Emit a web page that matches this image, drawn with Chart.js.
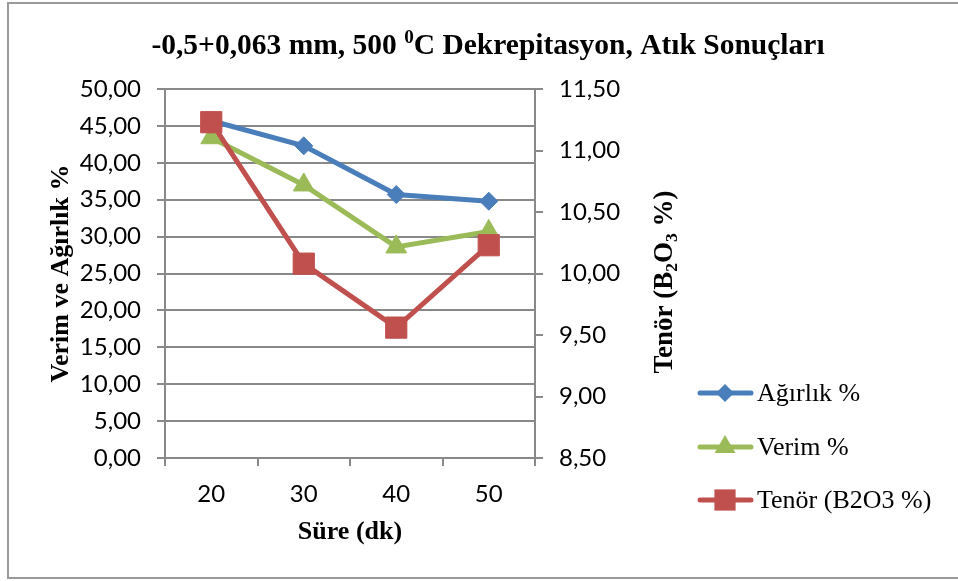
<!DOCTYPE html>
<html>
<head>
<meta charset="utf-8">
<script src="https://cdn.jsdelivr.net/npm/chart.js@4/dist/chart.umd.min.js"></script>
<style>
  body { margin: 0; background: #fff; }
</style>
</head>
<body>
<canvas id="atikChart" width="958" height="581"></canvas>
<script>
const categories = ['20', '30', '40', '50'];
const agirlik = [45.7, 42.3, 35.7, 34.8];
const verim = [43.4, 37.0, 28.6, 30.7];
const tenor = [11.23, 10.08, 9.56, 10.23];

const gridColor = '#898989';
const serif = '"Liberation Serif", "Times New Roman", serif';
const sans = 'Lato, "Open Sans", sans-serif';

const fmt = v => Number(v).toFixed(2).replace('.', ',');

// draws text pieces, some raised or lowered, centered on (x, y) baseline
function drawRich(ctx, parts, x, y, size, rotate) {
  ctx.save();
  ctx.translate(x, y);
  if (rotate) ctx.rotate(-Math.PI / 2);
  let total = 0;
  parts.forEach(p => {
    ctx.font = 'bold ' + (p.small ? size * 0.65 : size) + 'px ' + serif;
    p.w = ctx.measureText(p.t).width;
    total += p.w;
  });
  let cx = -total / 2;
  ctx.fillStyle = '#000';
  ctx.textBaseline = 'alphabetic';
  ctx.textAlign = 'left';
  parts.forEach(p => {
    ctx.font = 'bold ' + (p.small ? size * 0.65 : size) + 'px ' + serif;
    ctx.fillText(p.t, cx, y0(p));
    cx += p.w;
  });
  function y0(p) {
    if (p.sup) return -size * 0.38;
    if (p.sub) return size * 0.18;
    return 0;
  }
  ctx.restore();
}

function marker(ctx, style, x, y, r) {
  ctx.beginPath();
  if (style === 'rectRot') {
    ctx.moveTo(x, y - r); ctx.lineTo(x + r, y); ctx.lineTo(x, y + r); ctx.lineTo(x - r, y);
  } else if (style === 'triangle') {
    ctx.moveTo(x, y - r); ctx.lineTo(x + r * 0.87, y + r * 0.5); ctx.lineTo(x - r * 0.87, y + r * 0.5);
  } else {
    const s = r * Math.SQRT1_2;
    ctx.rect(x - s, y - s, 2 * s, 2 * s);
  }
  ctx.closePath();
  ctx.fill();
}

const frame = {
  id: 'frame',
  beforeDraw(chart) {
    const ctx = chart.ctx;
    ctx.save();
    ctx.fillStyle = '#fff';
    ctx.fillRect(0, 0, chart.width, chart.height);
    ctx.strokeStyle = '#9a9a9a';
    ctx.lineWidth = 2;
    ctx.strokeRect(8, 3, 1000, 575);
    ctx.restore();
  },
  afterDraw(chart) {
    const ctx = chart.ctx;
    const a = chart.chartArea;
    drawRich(ctx, [
      { t: '-0,5+0,063 mm, 500 ' },
      { t: '0', small: true, sup: true },
      { t: 'C Dekrepitasyon, Atık Sonuçları' }
    ], 488, 54, 29.5, false);
    drawRich(ctx, [{ t: 'Verim ve Ağırlık %' }], 68, (a.top + a.bottom) / 2, 26, true);
    drawRich(ctx, [
      { t: 'Tenör (B' }, { t: '2', small: true, sub: true },
      { t: 'O' }, { t: '3', small: true, sub: true }, { t: ' %)' }
    ], 672, 282, 27, true);
    drawRich(ctx, [{ t: 'Süre (dk)' }], (a.left + a.right) / 2, 539, 26, false);

    // legend: line with marker, then label
    const rows = [393, 447, 500];
    chart.data.datasets.forEach((ds, i) => {
      const y = rows[i];
      ctx.save();
      ctx.strokeStyle = ds.borderColor;
      ctx.fillStyle = ds.borderColor;
      ctx.lineWidth = 5;
      ctx.lineCap = 'round';
      ctx.beginPath();
      ctx.moveTo(700, y);
      ctx.lineTo(751, y);
      ctx.stroke();
      marker(ctx, ds.pointStyle, 725, y, ds.pointStyle === 'rect' ? 15 : (ds.pointStyle === 'triangle' ? 12 : 9));
      ctx.fillStyle = '#000';
      ctx.font = '26px ' + serif;
      ctx.textBaseline = 'middle';
      ctx.fillText(ds.label, 757, y + 1);
      ctx.restore();
    });
  }
};

const ctx = document.getElementById('atikChart').getContext('2d');
new Chart(ctx, {
  type: 'line',
  data: {
    labels: categories,
    datasets: [{
      label: 'Ağırlık %',
      data: agirlik,
      yAxisID: 'y',
      borderColor: '#4a7ebb',
      backgroundColor: '#4a7ebb',
      borderWidth: 5,
      pointStyle: 'rectRot',
      pointRadius: 9,
      pointBorderWidth: 1,
      order: 3,
    }, {
      label: 'Verim %',
      data: verim,
      yAxisID: 'y',
      borderColor: '#9bbb59',
      backgroundColor: '#9bbb59',
      borderWidth: 5,
      pointStyle: 'triangle',
      pointRadius: 12,
      pointBorderWidth: 1,
      order: 2,
    }, {
      label: 'Tenör (B2O3 %)',
      data: tenor,
      yAxisID: 'y1',
      borderColor: '#c0504d',
      backgroundColor: '#c0504d',
      borderWidth: 5,
      pointStyle: 'rect',
      pointRadius: 15,
      pointBorderWidth: 1,
      order: 1,
    }]
  },
  options: {
    responsive: false,
    animation: false,
    layout: { padding: { top: 89, left: 0, right: 273, bottom: 63 } },
    plugins: {
      legend: { display: false },
      title: { display: false },
      tooltip: { enabled: false },
    },
    scales: {
      x: {
        offset: true,
        grid: { offset: true, drawOnChartArea: false, tickLength: 8, color: gridColor, lineWidth: 2 },
        border: { color: gridColor, width: 2 },
        ticks: { color: '#000', font: { family: sans, size: 24 }, padding: 14 },
        afterFit: s => { s.height = 60; },
      },
      y: {
        position: 'left',
        min: 0,
        max: 50,
        ticks: { stepSize: 5, callback: fmt, color: '#000', font: { family: sans, size: 24 }, padding: 16 },
        grid: { color: gridColor, lineWidth: 2, tickLength: 8 },
        border: { color: gridColor, width: 2 },
        afterFit: s => { s.width = 165; },
      },
      y1: {
        position: 'right',
        min: 8.5,
        max: 11.5,
        ticks: { stepSize: 0.5, callback: fmt, color: '#000', font: { family: sans, size: 24 }, padding: 16 },
        grid: { drawOnChartArea: false, color: gridColor, lineWidth: 2, tickLength: 8 },
        border: { color: gridColor, width: 2 },
        afterFit: s => { s.width = 150; },
      }
    }
  },
  plugins: [frame]
});
</script>
</body>
</html>
